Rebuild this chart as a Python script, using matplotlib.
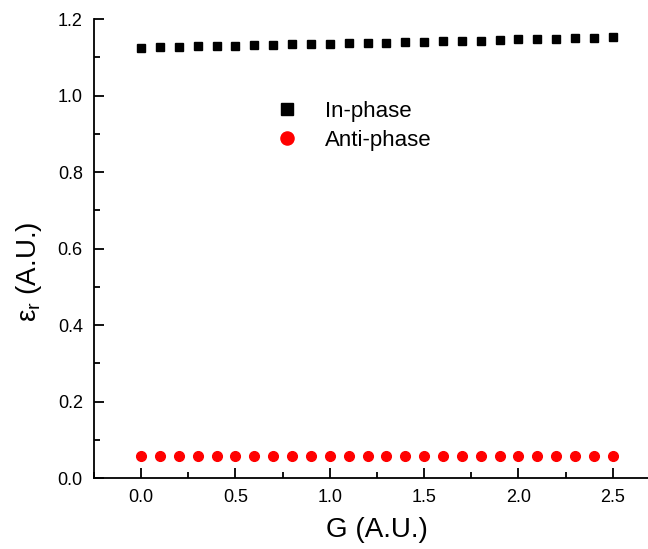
import matplotlib
matplotlib.use('Agg')
import matplotlib.pyplot as plt
from matplotlib.ticker import MultipleLocator

plt.rcParams['font.family'] = ['Liberation Sans', 'DejaVu Sans']
plt.rcParams['mathtext.fontset'] = 'custom'
plt.rcParams['mathtext.rm'] = 'Liberation Sans'

# ── Data ──────────────────────────────────────────────────────────────────────
g = [0.0, 0.1, 0.2, 0.3, 0.4, 0.5, 0.6, 0.7, 0.8, 0.9, 1.0, 1.1, 1.2,
     1.3, 1.4, 1.5, 1.6, 1.7, 1.8, 1.9, 2.0, 2.1, 2.2, 2.3, 2.4, 2.5]
in_phase = [1.126, 1.127, 1.128, 1.129, 1.130, 1.131, 1.132, 1.133, 1.134,
            1.135, 1.136, 1.137, 1.138, 1.139, 1.140, 1.141, 1.142, 1.143,
            1.144, 1.145, 1.147, 1.148, 1.149, 1.151, 1.152, 1.154]
anti_phase = [0.057, 0.057, 0.057, 0.057, 0.057, 0.057, 0.057, 0.057, 0.057,
              0.057, 0.057, 0.057, 0.057, 0.057, 0.057, 0.057, 0.057, 0.057,
              0.057, 0.057, 0.057, 0.057, 0.057, 0.057, 0.057, 0.057]

fig = plt.figure(figsize=(6.48, 5.49), dpi=100)
# axes runs a little past the right edge of the figure, as in the original
ax = fig.add_axes([0.145, 0.129, 0.8735, 0.836])

ax.plot(g, in_phase, 's', color='black', markersize=6.3, label='In-phase')
ax.plot(g, anti_phase, 'o', color='red', markersize=7, label='Anti-phase')

ax.set_xlim(-0.25, 2.75)
ax.set_ylim(0, 1.2)
ax.xaxis.set_major_locator(MultipleLocator(0.5))
ax.xaxis.set_minor_locator(MultipleLocator(0.25))
ax.yaxis.set_major_locator(MultipleLocator(0.2))
ax.yaxis.set_minor_locator(MultipleLocator(0.1))

for side in ('top', 'right'):
    ax.spines[side].set_visible(False)
for side in ('left', 'bottom'):
    ax.spines[side].set_linewidth(1.3)

ax.tick_params(which='major', direction='in', length=7, width=1.3, labelsize=13, pad=8)
ax.tick_params(which='minor', direction='in', length=4, width=1.3)

ax.set_xlabel('G (A.U.)', fontsize=20, labelpad=8)
ax.set_ylabel(r'$\mathregular{ε_r}$ (A.U.)', fontsize=20, labelpad=10)
ax.yaxis.label.set_y(0.45)

ax.legend(loc='upper left', bbox_to_anchor=(0.282, 0.865), frameon=False,
          fontsize=16, handletextpad=1.1, labelspacing=0.35, handlelength=1.2,
          markerscale=1.35)

fig.savefig('out.png', dpi=100)
